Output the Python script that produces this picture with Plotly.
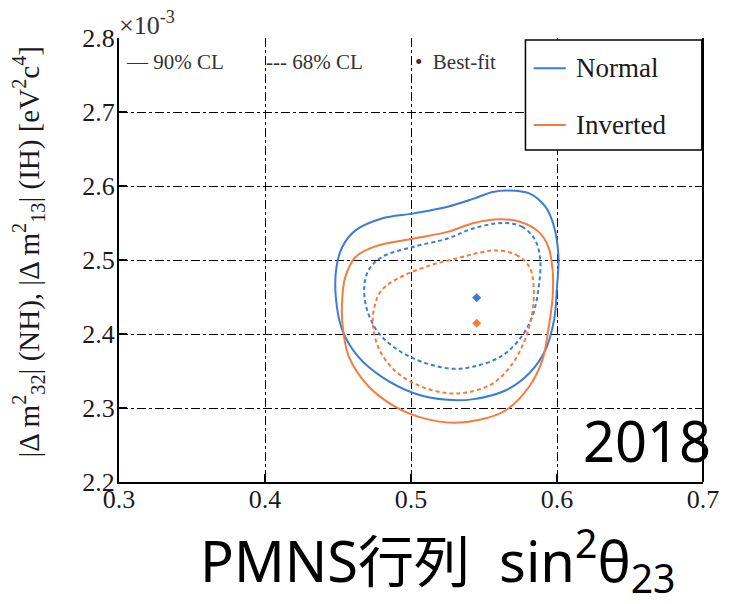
import plotly.graph_objects as go

# ---- data (sin^2 theta23, |dm^2| in 1e-3 eV^2) ----
nh90_x = [0.567, 0.581, 0.592, 0.598, 0.601, 0.600, 0.598, 0.592, 0.581, 0.565, 0.543, 0.525, 0.502,
          0.480, 0.464, 0.453, 0.4485, 0.449, 0.453, 0.462, 0.480, 0.502, 0.525, 0.543, 0.556]
nh90_y = [2.594, 2.590, 2.572, 2.545, 2.504, 2.464, 2.419, 2.378, 2.347, 2.324, 2.312, 2.311, 2.320,
          2.342, 2.369, 2.405, 2.450, 2.491, 2.518, 2.540, 2.556, 2.563, 2.572, 2.583, 2.592]

ih90_x = [0.561, 0.574, 0.5875, 0.594, 0.597, 0.597, 0.594, 0.590, 0.581, 0.565, 0.547, 0.529, 0.509,
          0.489, 0.471, 0.4575, 0.453, 0.453, 0.455, 0.462, 0.475, 0.502, 0.525, 0.543]
ih90_y = [2.555, 2.552, 2.538, 2.518, 2.4865, 2.450, 2.405, 2.365, 2.329, 2.297, 2.284, 2.280, 2.286,
          2.302, 2.329, 2.369, 2.4145, 2.450, 2.477, 2.504, 2.518, 2.529, 2.538, 2.550]

nh68_x = [0.563, 0.576, 0.585, 0.5885, 0.5875, 0.583, 0.574, 0.561, 0.543, 0.529, 0.511, 0.493, 0.478,
          0.470, 0.468, 0.471, 0.480, 0.502, 0.525, 0.543]
nh68_y = [2.550, 2.545, 2.527, 2.500, 2.464, 2.423, 2.392, 2.369, 2.356, 2.353, 2.360, 2.376, 2.401,
          2.432, 2.464, 2.4865, 2.504, 2.518, 2.529, 2.543]

ih68_x = [0.558, 0.572, 0.581, 0.584, 0.583, 0.578, 0.5695, 0.556, 0.538, 0.525, 0.507, 0.491, 0.479,
          0.474, 0.475, 0.480, 0.493, 0.5135, 0.531, 0.545]
ih68_y = [2.513, 2.507, 2.491, 2.464, 2.428, 2.392, 2.360, 2.333, 2.321, 2.320, 2.329, 2.347, 2.376,
          2.410, 2.437, 2.4595, 2.477, 2.493, 2.502, 2.509]

best_x = [0.545, 0.545]
best_y = [2.449, 2.4145]

x_ticks = [0.3, 0.4, 0.5, 0.6, 0.7]
y_ticks = [2.2, 2.3, 2.4, 2.5, 2.6, 2.7, 2.8]
y_grid = [2.3, 2.4, 2.5, 2.6, 2.7]

BLUE = "#3A7DD8"
ORANGE = "#F77B3C"
SERIF = "Liberation Serif"


def closed(xs, ys):
    return xs + xs[:1], ys + ys[:1]


fig = go.Figure()

for xs, ys, col, dash in [
    (nh90_x, nh90_y, BLUE, "solid"),
    (ih90_x, ih90_y, ORANGE, "solid"),
    (nh68_x, nh68_y, BLUE, "4px,3px"),
    (ih68_x, ih68_y, ORANGE, "4px,3px"),
]:
    cx, cy = closed(xs, ys)
    fig.add_trace(go.Scatter(x=cx, y=cy, mode="lines", showlegend=False,
                             line=dict(color=col, width=2, dash=dash, shape="spline", smoothing=1.0)))

fig.add_trace(go.Scatter(x=best_x, y=best_y, mode="markers", showlegend=False,
                         marker=dict(symbol="diamond", size=7, color=[BLUE, ORANGE])))

# overlay axis carrying only the interior horizontal grid
fig.add_trace(go.Scatter(x=[None], y=[None], yaxis="y2", showlegend=False))

fig.update_layout(
    width=731, height=604,
    margin=dict(l=119, r=17, t=38, b=122),
    paper_bgcolor="white", plot_bgcolor="white",
    xaxis=dict(range=[0.3, 0.7], tickvals=x_ticks, ticktext=[f"{v:.1f}" for v in x_ticks],
               showgrid=True, griddash="dashdot", gridcolor="black", gridwidth=1.3,
               showline=True, linecolor="black", linewidth=2,
               ticks="inside", ticklen=8, tickcolor="black", tickwidth=1.5,
               tickfont=dict(family=SERIF, size=26, color="#1a1a1a"), zeroline=False,
               ticklabelstandoff=-7),
    yaxis=dict(range=[2.2, 2.8], tickvals=y_ticks, ticktext=[f"{v:.1f}" for v in y_ticks],
               showgrid=False, showline=True, linecolor="black", linewidth=2,
               ticks="inside", ticklen=8, tickcolor="black", tickwidth=1.5,
               tickfont=dict(family=SERIF, size=26, color="#1a1a1a"), zeroline=False,
               ticklabelstandoff=-3),
    yaxis2=dict(range=[2.2, 2.8], overlaying="y", tickvals=y_grid, showticklabels=False,
                showgrid=True, griddash="dashdot", gridcolor="black", gridwidth=1.3,
                ticks="", showline=False, zeroline=False, side="left"),
)

# right frame line
fig.add_shape(type="line", xref="paper", yref="paper", x0=1, x1=1, y0=0, y1=1,
              line=dict(color="black", width=2))

# legend box
fig.add_shape(type="rect", xref="paper", yref="paper", x0=0.696, x1=0.998, y0=0.748, y1=0.9955,
              line=dict(color="black", width=1.5), fillcolor="white", layer="above")
for yy, col, name in [(0.932, BLUE, "Normal"), (0.804, ORANGE, "Inverted")]:
    fig.add_shape(type="line", xref="paper", yref="paper", x0=0.710, x1=0.765, y0=yy, y1=yy,
                  line=dict(color=col, width=2), layer="above")
    fig.add_annotation(xref="paper", yref="paper", x=0.766, y=yy, text=name, showarrow=False,
                       xanchor="left", yanchor="middle", xshift=8,
                       font=dict(family=SERIF, size=27, color="#1a1a1a"))

# top key text
for xx, txt in [(0.008, "\u2014 90% CL"), (0.248, "--- 68% CL"), (0.503, "\u2022  Best-fit")]:
    fig.add_annotation(xref="paper", yref="paper", x=xx, y=0.946, text=txt, showarrow=False,
                       xanchor="left", yanchor="middle",
                       font=dict(family=SERIF, size=21, color="#333333"))

# exponent
fig.add_annotation(xref="paper", yref="paper", x=-0.003, y=1.033, text="\u00d710<sup>-3</sup>",
                   showarrow=False, xanchor="left", yanchor="middle",
                   font=dict(family=SERIF, size=26, color="#333333"))

# y title
fig.add_annotation(xref="paper", yref="paper", x=-0.155, y=0.518, textangle=-90,
                   text="|\u0394 m<sup>2</sup><sub>32</sub>| (NH), |\u0394 m<sup>2</sup><sub>13</sub>| (IH) [eV<sup>2</sup>c<sup>4</sup>]",
                   showarrow=False, xanchor="center", yanchor="middle",
                   font=dict(family=SERIF, size=29, color="#1a1a1a"))

# x title
fig.add_annotation(xref="paper", yref="paper", x=0.546, y=-0.176,
                   text="PMNS\u884c\u5217  sin<sup>2</sup>\u03b8<sub>23</sub>",
                   showarrow=False, xanchor="center", yanchor="middle",
                   font=dict(family="Noto Sans, Noto Sans CJK JP", size=56, color="black"))

# year
fig.add_annotation(xref="paper", yref="paper", x=0.997, y=0.0946, text="2018",
                   showarrow=False, xanchor="right", yanchor="middle", xshift=12,
                   font=dict(family="Noto Sans", size=56, color="black"))

fig.write_html("out.html")
